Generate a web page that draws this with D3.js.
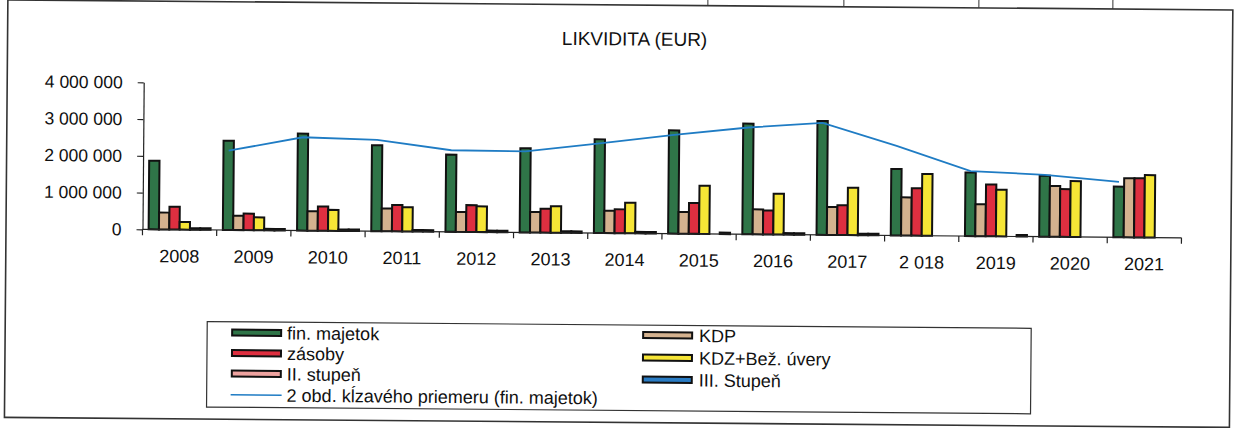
<!DOCTYPE html>
<html>
<head>
<meta charset="utf-8">
<script src="https://cdn.jsdelivr.net/npm/d3@7"></script>
<style>
  html, body { margin: 0; padding: 0; background: #ffffff; }
  svg { display: block; font-family: "Liberation Sans", Arial, sans-serif; }
</style>
</head>
<body>
<svg id="chart" width="1234" height="428"></svg>
<script>
// ---------- data ----------
const years = ["2008","2009","2010","2011","2012","2013","2014","2015","2016","2017","2018","2019","2020","2021"];
const yearLabels = ["2008","2009","2010","2011","2012","2013","2014","2015","2016","2017","2 018","2019","2020","2021"];
const finMajetok = [1870000, 2430000, 2640000, 2340000, 2100000, 2290000, 2550000, 2810000, 3010000, 3100000, 1810000, 1730000, 1660000, 1380000];
const kdp        = [460000, 390000, 530000, 620000, 540000, 560000, 610000, 590000, 680000, 760000, 1040000, 870000, 1380000, 1610000];
const zasoby     = [620000, 450000, 660000, 720000, 730000, 650000, 650000, 840000, 650000, 810000, 1290000, 1410000, 1300000, 1610000];
const kdzBezUvery= [210000, 350000, 570000, 660000, 700000, 720000, 830000, 1310000, 1110000, 1290000, 1680000, 1270000, 1520000, 1700000];
const iiStupen   = [0, 0, 0, 0, 0, 0, 0, null, 0, 0, null, null, null, null];
const iiiStupen  = [0, 0, 0, 0, 0, 0, 0, 0, 0, 0, null, 0, null, null];
// 2-period moving average of fin. majetok, starting 2009
const mavgYears  = ["2009","2010","2011","2012","2013","2014","2015","2016","2017","2018","2019","2020","2021"];
const mavgValues = [2160000, 2540000, 2485000, 2220000, 2205000, 2440000, 2690000, 2905000, 3045000, 2440000, 1770000, 1685000, 1510000];
const yTicks = [0, 1000000, 2000000, 3000000, 4000000];
const topTableTexts = [{x: 1100, t: "2,00"}, {x: 1236, t: "2,0"}];
const topTableDividers = [706, 842, 977, 1111];

const seriesKeys = ["fin", "kdp", "zas", "kdz", "ii", "iii"];
const seriesData = {fin: finMajetok, kdp: kdp, zas: zasoby, kdz: kdzBezUvery, ii: iiStupen, iii: iiiStupen};
const seriesColor = {fin: "#2f7548", kdp: "#d4b28f", zas: "#de2f40", kdz: "#f6e536", ii: "#eea3a0", iii: "#2a7cc4"};

const legendLeft = [
  {type: "bar", key: "fin", label: "fin. majetok"},
  {type: "bar", key: "zas", label: "zásoby"},
  {type: "bar", key: "ii", label: "II. stupeň"},
  {type: "line", key: "line", label: "2 obd. kĺzavého priemeru (fin. majetok)"}
];
const legendRight = [
  {type: "bar", key: "kdp", label: "KDP"},
  {type: "bar", key: "kdz", label: "KDZ+Bež. úvery"},
  {type: "bar", key: "iii", label: "III. Stupeň"}
];

// ---------- drawing ----------
const svg = d3.select("#chart");
const root = svg.append("g").attr("transform", "rotate(0.47 142 229)");

// outer frame & table remnants
root.append("rect").attr("x", 6).attr("y", 1).attr("width", 1225).attr("height", 417.5)
  .attr("fill", "none").attr("stroke", "#333").attr("stroke-width", 1.6);
root.selectAll("line.tdiv").data(topTableDividers).join("line")
  .attr("x1", d => d).attr("x2", d => d).attr("y1", -20).attr("y2", 1)
  .attr("stroke", "#333").attr("stroke-width", 1);
root.selectAll("text.ttxt").data(topTableTexts).join("text")
  .attr("x", d => d).attr("y", 1).attr("text-anchor", "end")
  .attr("font-size", 16).attr("fill", "#222").text(d => d.t);

// title
root.append("text").attr("x", 633).attr("y", 41.5).attr("text-anchor", "middle")
  .attr("font-size", 19).attr("fill", "#111").text("LIKVIDITA (EUR)");

// scales
const x0 = d3.scaleBand().domain(years).range([142.5, 1181.5]).paddingInner(0.165).paddingOuter(0.0825);
const x1 = d3.scaleBand().domain(seriesKeys).range([0, x0.bandwidth()]);
const y = d3.scaleLinear().domain([0, 4000000]).range([229.3, 82.3]);

const locale = d3.formatLocale({decimal: ",", thousands: "\u00a0", grouping: [3], currency: ["", ""]});
const fmt = locale.format(",");

// y axis
const yAxis = d3.axisLeft(y).tickValues(yTicks).tickFormat(fmt).tickSize(6).tickSizeOuter(0).tickPadding(15);
const gy = root.append("g").attr("transform", "translate(142.5,0)").call(yAxis);
gy.selectAll("text").attr("font-size", 17.5).attr("fill", "#111").attr("font-family", "Liberation Sans, Arial, sans-serif");
gy.selectAll("line,path").attr("stroke", "#222").attr("stroke-width", 1.2);

// bars
const groups = root.selectAll("g.cat").data(years).join("g")
  .attr("class", "cat").attr("transform", d => `translate(${x0(d)},0)`);
groups.selectAll("rect").data((d, i) => seriesKeys
    .map(k => ({key: k, value: seriesData[k][i]}))
    .filter(e => e.value !== null))
  .join("rect")
  .attr("x", d => x1(d.key))
  .attr("width", x1.bandwidth())
  .attr("y", d => Math.min(y(d.value), y(0) - 1.5))
  .attr("height", d => Math.max(y(0) - y(d.value), 1.5))
  .attr("fill", d => d.value === 0 ? "#111" : seriesColor[d.key])
  .attr("stroke", "#111").attr("stroke-width", 2);

// x axis line, tick marks, labels
root.append("line").attr("x1", x0.range()[0]).attr("x2", x0.range()[1])
  .attr("y1", y(0)).attr("y2", y(0)).attr("stroke", "#222").attr("stroke-width", 1.2);
const boundaries = years.map(d => x0(d) - x0.step() * x0.paddingInner() / 2).concat([x0.range()[1]]);
root.selectAll("line.xt").data(boundaries).join("line")
  .attr("x1", d => d).attr("x2", d => d).attr("y1", y(0)).attr("y2", y(0) + 6)
  .attr("stroke", "#222").attr("stroke-width", 1.2);
const xAxis = d3.axisBottom(x0).tickSize(0).tickPadding(20).tickFormat((d, i) => yearLabels[i]);
const gx = root.append("g").attr("transform", `translate(0,${y(0)})`).call(xAxis);
gx.select(".domain").remove();
gx.selectAll("text").attr("font-size", 18).attr("fill", "#111").attr("font-family", "Liberation Sans, Arial, sans-serif");

// moving average line
const line = d3.line()
  .x((d, i) => x0(mavgYears[i]) + x1("fin") + x1.bandwidth() / 2)
  .y(d => y(d));
root.append("path").datum(mavgValues).attr("d", line)
  .attr("fill", "none").attr("stroke", "#1f7cc4").attr("stroke-width", 1.8);

// legend
root.append("rect").attr("x", 208).attr("y", 321).attr("width", 824).attr("height", 85.5)
  .attr("fill", "none").attr("stroke", "#333").attr("stroke-width", 1.2);
function drawLegend(items, sx, tx, rows) {
  items.forEach((it, i) => {
    const cy = rows[i];
    if (it.type === "bar") {
      root.append("rect").attr("x", sx).attr("y", cy - 3).attr("width", 49).attr("height", 6)
        .attr("fill", seriesColor[it.key]).attr("stroke", "#111").attr("stroke-width", 2);
    } else {
      root.append("line").attr("x1", sx - 1).attr("x2", sx + 50).attr("y1", cy).attr("y2", cy)
        .attr("stroke", "#1f7cc4").attr("stroke-width", 1.5);
    }
    root.append("text").attr("x", tx).attr("y", cy + 6.5).attr("font-size", 18)
      .attr("fill", "#111").text(it.label);
  });
}
drawLegend(legendLeft, 233, 288, [331.8, 352.3, 372.8, 394]);
drawLegend(legendRight, 644, 700, [331, 353.5, 375.5]);
</script>
</body>
</html>
